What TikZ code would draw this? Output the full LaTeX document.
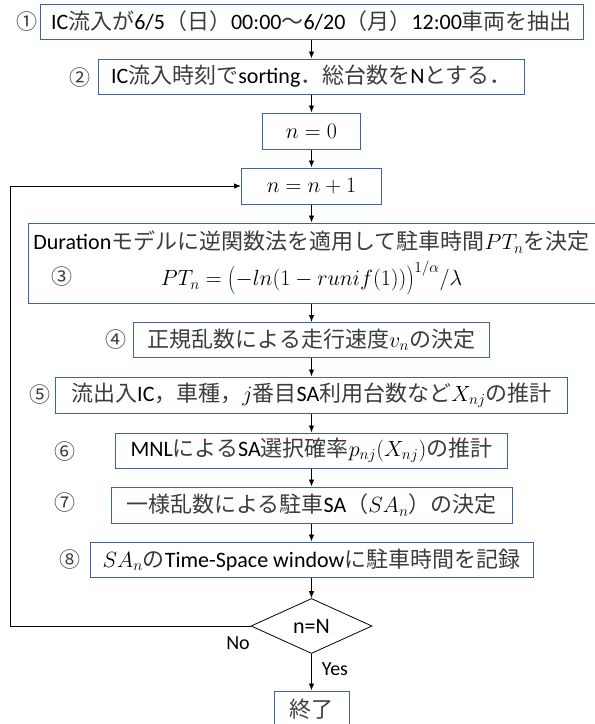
\RequirePackage{fix-cm}
\documentclass[tikz,border=0pt]{standalone}
\usepackage{amsmath}
\usepackage{fontspec}
\setmainfont{Carlito}
\newfontfamily\jpf{Noto Sans CJK JP}
\usetikzlibrary{shapes.geometric,arrows.meta}
\definecolor{boxblue}{RGB}{62,98,168}
\definecolor{jpgray}{RGB}{60,60,60}
\newcommand\J[1]{{\jpf\color{jpgray}#1}}
\newcommand\BigOpen{\mathopen{\raisebox{-1.7pt}{\scalebox{1}[1.3]{$($}}}}
\newcommand\BigClose{\mathclose{\raisebox{-1.7pt}{\scalebox{1}[1.3]{$)$}}}}
\begin{document}
\begin{tikzpicture}[x=1pt,y=-1pt,
  font=\fontsize{22}{33}\selectfont,
  box/.style={draw=boxblue, line width=1pt, inner sep=0pt, align=center, minimum height=35pt},
  arr/.style={-{Latex[length=7pt,width=5.5pt]}, line width=0.8pt},
  num/.style={inner sep=0pt, font=\fontsize{21}{25}\selectfont\jpf, text=jpgray},
  lbl/.style={inner sep=0pt, font=\fontsize{20}{24}\selectfont}]
\useasboundingbox (0,0) rectangle (595,724);
\def\cx{311.5}
% boxes
\node[box, minimum width=543pt] (b1) at (\cx,21.5)
  {IC\J{流入が}6/5\J{（日）}00:00\J{～}6/20\J{（月）}12:00\J{車両を抽出}};
\node[box, minimum width=426pt] (b2) at (\cx,76.5)
  {IC\J{流入時刻で}sorting\J{．総台数を}N\J{とする．}};
\node[box, minimum width=98pt, minimum height=36pt] (n0) at (\cx,131) {$n=0$};
\node[box, minimum width=140pt, minimum height=36pt] (nn) at (\cx,186) {$n=n+1$};
\node[box, minimum width=567pt, minimum height=80pt] (b3) at (\cx,263)
  {Duration\J{モデルに逆関数法を適用して駐車時間}$PT_n$\J{を決定}\\[3pt]
   $PT_n=\BigOpen-ln(1-runif(1))\BigClose^{1/\alpha}/\lambda$};
\node[box, minimum width=356pt] (b4) at (\cx,340) {\J{正規乱数による走行速度}$v_n$\J{の決定}};
\node[box, minimum width=512pt, minimum height=36pt] (b5) at (\cx,395)
  {\J{流出入}IC\J{，車種，}$j$\J{番目}SA\J{利用台数など}$X_{nj}$\J{の推計}};
\node[box, minimum width=392pt] (b6) at (\cx,450.5)
  {MNL\J{による}SA\J{選択確率}$p_{nj}(X_{nj})$\J{の推計}};
\node[box, minimum width=401pt, minimum height=36pt] (b7) at (\cx,505)
  {\J{一様乱数による駐車}SA\J{（}$SA_n$\J{）の決定}};
\node[box, minimum width=443pt] (b8) at (\cx,559.5)
  {$SA_n$\J{の}Time-Space window\J{に駐車時間を記録}};
\node[diamond, draw, line width=0.8pt, inner sep=0pt, aspect=2.2,
  minimum width=121pt, minimum height=55pt] (d) at (\cx,626) {n=N};
\node[box, minimum width=75pt, minimum height=36pt] (e) at (\cx,709) {\J{終了}};
% numbers
\node[num] (c1) at (27,22) {①};
\node[num] (c2) at (80,78) {②};
\node[num] (c3) at (62,277) {③};
\node[num] (c4) at (116,340) {④};
\node[num] (c5) at (40,395) {⑤};
\node[num] (c6) at (65,452) {⑥};
\node[num] (c7) at (65,503) {⑦};
\node[num] (c8) at (70,560) {⑧};
% labels
\node[lbl] (no) at (238,643) {No};
\node[lbl] (yes) at (335,669) {Yes};
% connectors
\draw[arr] (b1) -- (b2);
\draw[arr] (b2) -- (n0);
\draw[arr] (n0) -- (nn);
\draw[arr] (nn) -- (b3);
\draw[arr] (b3) -- (b4);
\draw[arr] (b4) -- (b5);
\draw[arr] (b5) -- (b6);
\draw[arr] (b6) -- (b7);
\draw[arr] (b7) -- (b8);
\draw[arr] (b8) -- (d);
\draw[arr] (d) -- (e);
\coordinate (lp) at (10,626);
\draw[arr] (d.west) -- (lp) |- (nn.west);
\end{tikzpicture}
\end{document}
